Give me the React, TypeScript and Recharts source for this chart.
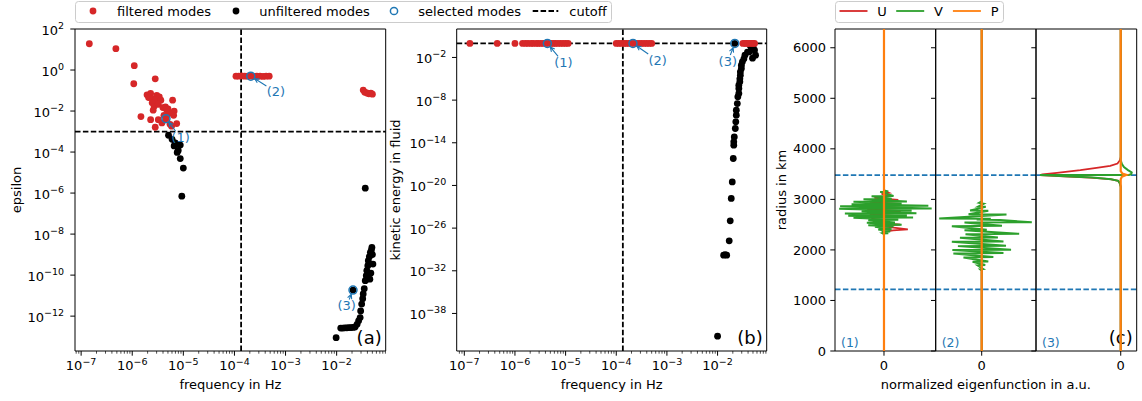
import React from 'react';
import { ScatterChart, Scatter, XAxis, YAxis, ReferenceLine, Legend } from 'recharts';

const W = 1142;
const H = 401;
const FONT = '"DejaVu Sans", sans-serif';
const RED = '#d62728';
const BLUE = '#1f77b4';
const GREEN = '#2ca02c';
const ORANGE = '#ff7f0e';

// (a) modes as [log10 frequency in Hz, log10 epsilon]
const filteredEps = [
  [-6.84, 1.28], [-6.32, 1.04], [-5.96, 0.21], [-5.97, -0.67], [-5.55, -0.43],
  [-5.71, -1.21], [-5.64, -1.14], [-5.68, -1.34], [-5.6, -1.41], [-5.52, -1.24],
  [-5.47, -1.31], [-5.54, -1.45], [-5.44, -1.47], [-5.61, -1.6], [-5.57, -1.77],
  [-5.59, -1.96], [-5.49, -1.67], [-5.4, -1.83], [-5.35, -1.8], [-5.3, -1.9],
  [-5.33, -1.93], [-5.21, -1.47], [-5.18, -2.0], [-5.19, -2.21], [-5.29, -2.12],
  [-5.38, -2.21], [-5.49, -2.42], [-5.64, -2.42], [-5.83, -2.27], [-5.55, -2.79],
  [-5.42, -2.58], [-5.13, -2.61], [-5.23, -2.74], [-5.26, -2.65], [-5.34, -2.37],
  [-3.97, -0.3], [-3.92, -0.3], [-3.86, -0.29], [-3.8, -0.3], [-3.74, -0.3], [-3.68, -0.3],
  [-3.62, -0.31], [-3.56, -0.3], [-3.5, -0.3], [-3.44, -0.31], [-3.38, -0.3], [-3.32, -0.3],
  [-1.48, -0.98], [-1.45, -1.08], [-1.41, -1.12], [-1.37, -1.16], [-1.33, -1.13], [-1.3, -1.18],
];
const unfilteredEps = [
  [-5.29, -3.18], [-5.22, -3.38], [-5.16, -3.55], [-5.13, -3.62], [-5.06, -3.66], [-5.18, -3.7],
  [-5.1, -3.92], [-5.12, -4.02], [-5.06, -4.32], [-5.0, -4.78], [-5.03, -6.15],
  [-1.44, -5.76], [-2.01, -13.05],
  [-1.92, -12.58], [-1.88, -12.58], [-1.84, -12.57], [-1.8, -12.57], [-1.76, -12.56], [-1.72, -12.56],
  [-1.68, -12.55], [-1.64, -12.53], [-1.6, -12.4], [-1.57, -12.23], [-1.54, -12.07], [-1.53, -11.75],
  [-1.51, -11.41], [-1.49, -11.15], [-1.48, -10.92], [-1.46, -10.66], [-1.44, -10.27], [-1.42, -10.03],
  [-1.41, -9.78], [-1.39, -9.54], [-1.38, -9.3], [-1.36, -9.1], [-1.34, -8.89], [-1.32, -8.78],
  [-1.31, -8.65], [-1.3, -9.0], [-1.29, -9.46], [-1.33, -9.9], [-1.35, -10.2], [-1.68, -10.73],
];
const selectedEps = [[-5.34, -2.37], [-3.68, -0.3], [-1.68, -10.73]];

// (b) modes as [log10 frequency in Hz, log10 kinetic energy in fluid]
const filteredKin = [
  [-6.89, -0.03], [-6.35, -0.03], [-6.0, -0.03], [-5.85, -0.03], [-5.79, -0.03], [-5.74, -0.03],
  [-5.68, -0.03], [-5.64, -0.03], [-5.58, -0.03], [-5.54, -0.03], [-5.49, -0.03], [-5.44, -0.03],
  [-5.39, -0.03], [-5.34, -0.03], [-5.29, -0.03], [-5.24, -0.03], [-5.2, -0.03], [-5.15, -0.03],
  [-5.1, -0.03], [-5.05, -0.03], [-5.0, -0.03], [-4.95, -0.03],
  [-4.0, -0.03], [-3.95, -0.03], [-3.9, -0.03], [-3.84, -0.03], [-3.8, -0.03], [-3.75, -0.03],
  [-3.7, -0.03], [-3.65, -0.03], [-3.6, -0.03], [-3.55, -0.03], [-3.5, -0.03], [-3.45, -0.03],
  [-3.4, -0.03], [-3.35, -0.03], [-3.3, -0.03],
  [-1.5, -0.03], [-1.46, -0.02], [-1.43, -0.03], [-1.4, -0.02], [-1.37, -0.03], [-1.33, -0.02],
  [-1.3, -0.03], [-1.27, -0.03],
];
const unfilteredKin = [
  [-1.66, -0.03], [-1.36, -0.27], [-1.3, -0.5], [-1.33, -0.73], [-1.27, -0.97], [-1.37, -1.21],
  [-1.41, -1.25], [-1.25, -1.68], [-1.46, -1.68], [-1.31, -2.1], [-1.48, -2.2], [-1.51, -2.62],
  [-1.53, -3.08], [-1.53, -3.55], [-1.55, -4.02], [-1.55, -4.49], [-1.56, -5.0], [-1.56, -5.43],
  [-1.58, -5.9], [-1.58, -6.36], [-1.58, -7.06], [-1.6, -7.54], [-1.61, -8.48], [-1.63, -9.41],
  [-1.63, -10.12], [-1.64, -11.06], [-1.65, -11.99], [-1.67, -13.17], [-1.68, -13.87],
  [-1.68, -14.34], [-1.69, -16.21], [-1.71, -19.5], [-1.73, -21.83], [-1.75, -24.98],
  [-1.77, -27.79], [-1.82, -29.81], [-1.85, -29.72], [-1.88, -29.81], [-2.0, -41.2],
];
const selectedKin = [[-5.36, -0.03], [-3.67, -0.03], [-1.66, -0.03]];
const selectedTags = ['(1)', '(2)', '(3)'];

const freqTicks = [1e-7, 1e-6, 1e-5, 1e-4, 1e-3, 1e-2];
const epsTicks = [1e2, 1, 1e-2, 1e-4, 1e-6, 1e-8, 1e-10, 1e-12];
const kinTicks = [1e-2, 1e-8, 1e-14, 1e-20, 1e-26, 1e-32, 1e-38];
const freqCutoff = 1.35e-4;
const epsCutoff = 1e-3;
const kinCutoff = 0.93;
const modeNames = ['filtered modes', 'unfiltered modes', 'selected modes', 'cutoff'];

// (c) eigenfunctions as [radius in km, normalized amplitude]
const u1 = [
  [0, 0], [2330, 0], [2360, 0.02], [2385, 0.19], [2405, 0.5], [2440, 0.2], [2480, -0.12], [2500, 0.34],
  [2545, -0.22], [2590, -0.2], [2630, -0.25], [2670, 0.3], [2710, -0.3], [2750, 0.35], [2790, -0.35],
  [2830, 0.4], [2870, -0.4], [2910, 0.35], [2950, -0.3], [2990, 0.3], [3030, -0.2], [3070, 0.15],
  [3110, -0.05], [3130, 0.1], [3160, 0.02], [3200, 0], [6371, 0],
];
const v1 = [
  [0, 0], [2310, 0], [2326, -0.03], [2332, 0.09], [2358, -0.05], [2364, 0.13], [2405, -0.12], [2411, 0.16],
  [2457, -0.19], [2463, 0.2], [2490, -0.33], [2496, 0.37], [2536, -0.36], [2542, 0.23], [2589, -0.33],
  [2595, 0.3], [2635, -0.64], [2641, 0.61], [2674, -0.75], [2680, 0.48], [2721, -0.82], [2727, 0.68],
  [2767, -0.47], [2773, 0.58], [2813, -0.94], [2819, 1.0], [2866, -0.92], [2872, 0.93], [2905, -0.68],
  [2911, 0.37], [2951, -0.64], [2957, 0.48], [3004, -0.43], [3010, 0.16], [3063, -0.26], [3069, 0.2],
  [3148, -0.08], [3154, 0.09], [3175, 0], [6371, 0],
];
const p1 = [[0, 0], [6371, 0]];
const u2 = [[0, 0], [6371, 0]];
const v2 = [
  [0, 0], [1590, 0], [1615, -0.03], [1621, 0.03], [1694, -0.08], [1700, 0.07], [1765, -0.18], [1771, 0.13],
  [1852, -0.36], [1858, 0.23], [1931, -0.56], [1937, 0.43], [1996, -0.58], [2002, 0.58], [2075, -0.47],
  [2081, 0.48], [2160, -0.59], [2166, 0.43], [2239, -0.43], [2245, 0.32], [2312, -0.32], [2318, 0.74],
  [2391, -0.34], [2397, 0.1], [2470, -0.59], [2476, 0.4], [2543, -0.34], [2549, 0.99], [2590, 0.36],
  [2600, -0.1], [2615, 0.18], [2622, -0.84], [2701, 0.49], [2707, -0.26], [2775, 0.13], [2781, -0.23],
  [2852, 0.08], [2858, -0.07], [2915, 0.04], [2931, -0.05], [2960, 0], [6371, 0],
];
const p2 = [[0, 0], [6371, 0]];
const u3 = [
  [0, 0], [3247, 0], [3314, -0.01], [3366, -0.03], [3399, -0.13], [3432, -0.38], [3458, -0.71], [3480, -1.0],
  [3492, -0.97], [3524, -0.79], [3577, -0.5], [3623, -0.3], [3662, -0.13], [3709, -0.04], [3775, -0.01],
  [3840, 0], [6371, 0],
];
const v3 = [
  [0, 0], [3247, 0], [3314, -0.01], [3366, -0.03], [3399, -0.12], [3432, -0.35], [3458, -0.68], [3480, -1.0],
  [3484, 0.1], [3500, 0.13], [3531, 0.136], [3580, 0.09], [3640, 0.04], [3700, 0.015], [3775, 0], [6371, 0],
];
const p3 = [[0, 0], [3400, 0], [3450, 0.015], [3485, 0.07], [3510, 0.02], [3560, 0], [6371, 0]];
const radiusTicks = [0, 1000, 2000, 3000, 4000, 5000, 6000];
const boundaries = [3480, 1221];
const eigenNames = ['U', 'V', 'P'];

// layout of the plot areas on the page
const A = { left: 75, right: 385.7, top: 29, bottom: 351 };
const B = { left: 456.7, right: 766.7, top: 29, bottom: 351 };
const C = [
  { left: 835, right: 935.7, top: 29, bottom: 351, domain: [-1.027, 1.084] },
  { left: 935.7, right: 1036, top: 29, bottom: 351, domain: [-0.909, 1.073] },
  { left: 1036, right: 1136.7, top: 29, bottom: 351, domain: [-1.05, 0.198] },
];
const eigen = [
  { u: u1, v: v1, p: p1 },
  { u: u2, v: v2, p: p2 },
  { u: u3, v: v3, p: p3 },
];

const freqDomainA = [10 ** -7.12, 10 ** -1.04];
const freqDomainB = [10 ** -7.15, 10 ** -1.03];
const epsDomain = [10 ** -13.7, 10 ** 2];
const kinDomain = [10 ** -43.28, 10 ** 2];

const fromLog = (pairs: number[][]) => pairs.map(([f, v]) => ({ x: 10 ** f, y: 10 ** v }));
const tagged = (pairs: number[][]) => fromLog(pairs).map((d, i) => ({ ...d, tag: selectedTags[i] }));
const profile = (pairs: number[][]) => pairs.map(([r, v]) => ({ r, v }));

const isMajor = (v: number) => Math.abs(Math.log10(v) - Math.round(Math.log10(v))) < 1e-9;
const withMinor = (lo: number, hi: number) => {
  const out = [...freqTicks];
  for (let d = -8; d <= -1; d++) {
    for (let k = 2; k <= 9; k++) {
      const v = k * 10 ** d;
      if (v >= lo && v <= hi) out.push(v);
    }
  }
  return out.sort((a, b) => a - b);
};
const sup = (e: number) => (e < 0 ? '\u2212' + Math.abs(e) : String(e));

const AXIS = { stroke: '#000', strokeWidth: 1 };
const DASH = '5.5 2.4';
const txt = { fontFamily: FONT, fontSize: 13, fill: '#000' };

const LogTickX = ({ x, y, payload }: any) => {
  const major = isMajor(payload.value);
  const e = Math.round(Math.log10(payload.value));
  return (
    <g>
      <line x1={x} y1={y} x2={x} y2={y + (major ? 4.7 : 2.7)} stroke="#000" strokeWidth={major ? 1 : 0.7} />
      {major && (
        <text x={x} y={y + 19} textAnchor="middle" {...txt}>
          10<tspan dy={-5.5} fontSize={9.5}>{sup(e)}</tspan>
        </text>
      )}
    </g>
  );
};

const LogTickY = ({ x, y, payload, pad }: any) => {
  const e = Math.round(Math.log10(payload.value));
  return (
    <g>
      <line x1={x - 4.7} y1={y} x2={x} y2={y} stroke="#000" />
      <text x={x - pad} y={y + 5.5} textAnchor="end" {...txt}>
        10<tspan dy={-5.5} fontSize={9.5}>{sup(e)}</tspan>
      </text>
    </g>
  );
};

const RadiusTick = ({ x, y, payload, showLabel }: any) => (
  <g>
    <line x1={x - 4.7} y1={y} x2={x} y2={y} stroke="#000" />
    {showLabel && (
      <text x={x - 9} y={y + 4.6} textAnchor="end" {...txt}>{payload.value}</text>
    )}
  </g>
);

const ZeroTick = ({ x, y, payload }: any) => (
  <g>
    <line x1={x} y1={y} x2={x} y2={y + 4.7} stroke="#000" />
    <text x={x} y={y + 19} textAnchor="middle" {...txt}>{payload.value}</text>
  </g>
);

const XTitle = ({ cx, text }: any) => (
  <text x={cx} y={389} textAnchor="middle" {...txt}>{text}</text>
);
const YTitle = ({ bx, cy, text }: any) => (
  <text x={bx} y={cy} transform={`rotate(-90 ${bx} ${cy})`} textAnchor="middle" {...txt}>{text}</text>
);

const PanelTag = ({ right, text }: any) => (
  <g>
    <rect x={right - 31} y={326} width={30} height={24} fill="#fff" fillOpacity={0.85} />
    <text x={right - 4} y={344} textAnchor="end" fontFamily={FONT} fontSize={18} fill="#000">{text}</text>
  </g>
);

const dot = (color: string) => (p: any) => <circle cx={p.cx} cy={p.cy} r={3.4} fill={color} />;
const noMark = () => <g />;

const SelectedMark = ({ cx, cy, payload, offsets }: any) => {
  const [dx, dy] = offsets[payload.tag];
  const tx = cx + dx;
  const ty = cy + dy;
  const vx = cx - tx;
  const vy = cy - ty;
  const s = Math.min(9.5 / Math.abs(vx), 6.5 / Math.abs(vy));
  const sx = tx + vx * s;
  const sy = ty + vy * s;
  const len = Math.hypot(vx, vy);
  const ex = cx - (vx / len) * 4.5;
  const ey = cy - (vy / len) * 4.5;
  const ang = Math.atan2(vy, vx);
  const h1x = ex - 5 * Math.cos(ang - 0.45);
  const h1y = ey - 5 * Math.sin(ang - 0.45);
  const h2x = ex - 5 * Math.cos(ang + 0.45);
  const h2y = ey - 5 * Math.sin(ang + 0.45);
  return (
    <g>
      <circle cx={cx} cy={cy} r={4} fill="none" stroke={BLUE} strokeWidth={1.5} />
      <path d={`M${sx},${sy}L${ex},${ey}M${h1x},${h1y}L${ex},${ey}L${h2x},${h2y}`} stroke={BLUE} strokeWidth={1.1} fill="none" />
      <text x={tx} y={ty + 4.2} textAnchor="middle" fontFamily={FONT} fontSize={13} fill={BLUE}>{payload.tag}</text>
    </g>
  );
};

const tagOffsetA: Record<string, number[]> = { '(1)': [14.6, 18.9], '(2)': [25.1, 15.8], '(3)': [-6.4, 15.9] };
const tagOffsetB: Record<string, number[]> = { '(1)': [16.1, 19.5], '(2)': [24.7, 17], '(3)': [-7, 18] };

const ModesLegend = () => (
  <svg width={540} height={24} style={{ display: 'block' }}>
    <rect x={0.5} y={1.5} width={536} height={21} rx={3} fill="#fff" fillOpacity={0.8} stroke="#cccccc" />
    <circle cx={18} cy={11} r={3.4} fill={RED} />
    <text x={42} y={15.5} {...txt}>{modeNames[0]}</text>
    <circle cx={161} cy={11} r={3.4} fill="#000" />
    <text x={184.3} y={15.5} {...txt}>{modeNames[1]}</text>
    <circle cx={319} cy={11} r={3.6} fill="none" stroke={BLUE} strokeWidth={1.5} />
    <text x={343.3} y={15.5} {...txt}>{modeNames[2]}</text>
    <line x1={457.7} y1={11} x2={483.3} y2={11} stroke="#000" strokeWidth={1.8} strokeDasharray={DASH} />
    <text x={494.3} y={15.5} {...txt}>{modeNames[3]}</text>
  </svg>
);

const EigenLegend = () => (
  <svg width={170} height={24} style={{ display: 'block' }}>
    <rect x={0.5} y={1.5} width={168} height={21} rx={3} fill="#fff" fillOpacity={0.8} stroke="#cccccc" />
    {[RED, GREEN, ORANGE].map((c, i) => (
      <g key={c}>
        <line x1={4.5 + i * 56.7} y1={11} x2={32.5 + i * 56.7} y2={11} stroke={c} strokeWidth={1.8} />
        <text x={42.3 + i * 56.7} y={15.5} {...txt}>{eigenNames[i]}</text>
      </g>
    ))}
  </svg>
);

const Spines = (xDomain: any, yDomain: any, xScale: any, yScale: any, xKey: string, yKey: string) => [
  <XAxis key="top" xAxisId="top" orientation="top" type="number" dataKey={xKey} scale={xScale} domain={xDomain}
    allowDataOverflow height={1} tick={false} tickLine={false} axisLine={AXIS} />,
  <YAxis key="right" yAxisId="right" orientation="right" type="number" dataKey={yKey} scale={yScale} domain={yDomain}
    allowDataOverflow width={1} tick={false} tickLine={false} axisLine={AXIS} />,
];

const layer: React.CSSProperties = { position: 'absolute', left: 0, top: 0 };

function ModePanel({ box, freqDomain, yDomain, yTicks, filtered, unfiltered, selected, offsets, cutoffY, yTitle, titleX, pad, tag, legend }: any) {
  const yw = 70;
  return (
    <div style={layer}>
      <ScatterChart width={W} height={H} margin={{ top: box.top - 1, right: W - box.right - 1, bottom: 0, left: box.left - yw }}>
        <XAxis type="number" dataKey="x" scale="log" domain={freqDomain} allowDataOverflow
          ticks={withMinor(freqDomain[0], freqDomain[1])} interval={0} tickSize={0} tickMargin={0} tickLine={false}
          axisLine={AXIS} height={H - box.bottom} tick={<LogTickX />}
          label={{ content: () => <XTitle cx={(box.left + box.right) / 2} text="frequency in Hz" /> }} />
        <YAxis type="number" dataKey="y" scale="log" domain={yDomain} allowDataOverflow ticks={yTicks} interval={0}
          tickSize={0} tickMargin={0} tickLine={false} axisLine={AXIS} width={yw} tick={<LogTickY pad={pad} />}
          label={{ content: () => <YTitle bx={titleX} cy={(box.top + box.bottom) / 2} text={yTitle} /> }} />
        {Spines(freqDomain, yDomain, 'log', 'log', 'x', 'y')}
        <ReferenceLine x={freqCutoff} stroke="#000" strokeWidth={1.8} strokeDasharray={DASH} />
        <ReferenceLine y={cutoffY} stroke="#000" strokeWidth={1.8} strokeDasharray={DASH} />
        <Scatter data={fromLog(unfiltered)} shape={dot('#000')} isAnimationActive={false} />
        <Scatter data={fromLog(filtered)} shape={dot(RED)} isAnimationActive={false} />
        <Scatter data={tagged(selected)} shape={(p: any) => <SelectedMark {...p} offsets={offsets} />} isAnimationActive={false} />
        {legend && (
          <Legend layout="vertical" align="center" verticalAlign="middle" content={() => <ModesLegend />}
            wrapperStyle={{ left: 75, top: 0, width: 540, height: 24 }} />
        )}
        <PanelTag right={box.right} text={tag} />
      </ScatterChart>
    </div>
  );
}

function EigenPanel({ i }: { i: number }) {
  const box = C[i];
  const yw = 20;
  const d = eigen[i];
  return (
    <div style={layer}>
      <ScatterChart width={W} height={H} margin={{ top: box.top - 1, right: W - box.right - 1, bottom: 0, left: box.left - yw }}>
        <XAxis type="number" dataKey="v" domain={box.domain} allowDataOverflow ticks={[0]} interval={0}
          tickSize={0} tickMargin={0} tickLine={false} axisLine={AXIS} height={H - box.bottom} tick={<ZeroTick />}
          label={i === 1 ? { content: () => <XTitle cx={(box.left + box.right) / 2} text="normalized eigenfunction in a.u." /> } : undefined} />
        <YAxis type="number" dataKey="r" domain={[0, 6371]} allowDataOverflow ticks={radiusTicks} interval={0}
          tickSize={0} tickMargin={0} tickLine={false} axisLine={AXIS} width={yw} tick={<RadiusTick showLabel={i === 0} />}
          label={i === 0 ? { content: () => <YTitle bx={785.5} cy={(box.top + box.bottom) / 2} text="radius in km" /> } : undefined} />
        {Spines(box.domain, [0, 6371], 'auto', 'auto', 'v', 'r')}
        {boundaries.map((r) => (
          <ReferenceLine key={r} y={r} stroke={BLUE} strokeWidth={1.8} strokeDasharray={DASH} />
        ))}
        <Scatter data={profile(d.u)} line={{ stroke: RED, strokeWidth: 1.8 }} shape={noMark} isAnimationActive={false} />
        <Scatter data={profile(d.v)} line={{ stroke: GREEN, strokeWidth: 2 }} shape={noMark} isAnimationActive={false} />
        <Scatter data={profile(d.p)} line={{ stroke: ORANGE, strokeWidth: 2.2 }} shape={noMark} isAnimationActive={false} />
        {i === 0 && (
          <Legend layout="vertical" align="center" verticalAlign="middle" content={() => <EigenLegend />}
            wrapperStyle={{ left: 835, top: 0, width: 170, height: 24 }} />
        )}
        <text x={box.left + 6} y={346.5} fontFamily={FONT} fontSize={12.5} fill={BLUE}>{selectedTags[i]}</text>
        {i === 2 && <PanelTag right={box.right} text="(c)" />}
      </ScatterChart>
    </div>
  );
}

export default function App() {
  return (
    <div style={{ position: 'absolute', left: 0, top: 0, width: W, height: H, background: '#fff', fontFamily: FONT }}>
      <ModePanel box={A} freqDomain={freqDomainA} yDomain={epsDomain} yTicks={epsTicks} filtered={filteredEps}
        unfiltered={unfilteredEps} selected={selectedEps} offsets={tagOffsetA} cutoffY={epsCutoff}
        yTitle="epsilon" titleX={20.5} pad={11} tag="(a)" legend />
      <ModePanel box={B} freqDomain={freqDomainB} yDomain={kinDomain} yTicks={kinTicks} filtered={filteredKin}
        unfiltered={unfilteredKin} selected={selectedKin} offsets={tagOffsetB} cutoffY={kinCutoff}
        yTitle="kinetic energy in fluid" titleX={400} pad={10.5} tag="(b)" legend={false} />
      <EigenPanel i={0} />
      <EigenPanel i={1} />
      <EigenPanel i={2} />
    </div>
  );
}
